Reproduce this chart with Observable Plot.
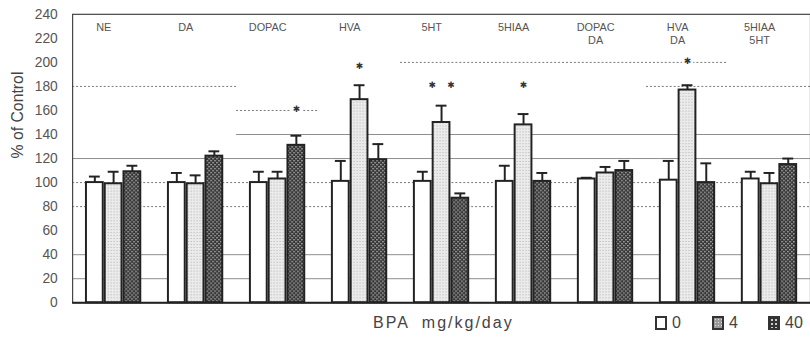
<!DOCTYPE html>
<html>
<head>
<meta charset="utf-8">
<script src="https://cdn.jsdelivr.net/npm/d3@7"></script>
<script src="https://cdn.jsdelivr.net/npm/@observablehq/plot@0.6"></script>
<style>
  html, body { margin: 0; padding: 0; background: #fff; }
  body { position: relative; width: 810px; height: 338px; overflow: hidden; font-family: "Liberation Sans", Arial, sans-serif; }
  #chart { position: absolute; left: 0; top: 0; width: 810px; height: 318px; overflow: hidden; }
  #foot { position: absolute; left: 0; top: 310px; width: 810px; height: 28px; color: #444; }
  #foot .xl { position: absolute; left: 373px; top: 4px; font-size: 16px; letter-spacing: 2px; white-space: pre; }
  #foot .item { position: absolute; top: 4px; font-size: 16px; line-height: 18px; white-space: nowrap; }
  #foot .sq { display: inline-block; width: 8px; height: 10px; border: 2px solid #333; vertical-align: -2px; margin-right: 5px; }
</style>
</head>
<body>
<div id="chart"></div>
<div id="foot"></div>
<script>
// ---- data ----
const groups = ["NE", "DA", "DOPAC", "HVA", "5HT", "5HIAA", "DOPAC/DA", "HVA/DA", "5HIAA/5HT"];
const doses = ["0", "4", "40"];
const mean0  = [100, 100, 100, 101, 101, 101, 103, 102, 103];
const sem0   = [5, 8, 9, 17, 8, 13, 1, 16, 6];
const mean4  = [99, 99, 103, 169, 150, 148, 108, 177, 99];
const sem4   = [10, 7, 6, 12, 14, 9, 5, 4, 9];
const mean40 = [109, 122, 131, 119, 87, 101, 110, 100, 115];
const sem40  = [5, 4, 8, 13, 4, 7, 8, 16, 5];
const yTicks = [0, 20, 40, 60, 80, 100, 120, 140, 160, 180, 200, 220, 240];
const solidGrid = [20, 40, 120];
const dashedGrid = [80, 100];
const solidSegments = [{y: 140, from: "DOPAC", to: "5HIAA/5HT"}];
const dashedSegments = [
  {y: 160, from: "DOPAC", to: "DOPAC"},
  {y: 180, from: "NE", to: "DA"},
  {y: 200, from: "5HT", to: "HVA/DA"},
  {y: 180, from: "HVA/DA", to: "5HIAA/5HT"}
];
const stars = [
  {group: "DOPAC", dose: "40", y: 161, text: "\u2731"},
  {group: "HVA", dose: "4", y: 197, text: "\u2731"},
  {group: "5HT", dose: "4", y: 181, text: "\u2731\u00a0\u00a0\u00a0\u00a0\u2731"},
  {group: "5HIAA", dose: "4", y: 181, text: "\u2731"},
  {group: "HVA/DA", dose: "4", y: 201, text: "\u2731"}
];
const legendLabels = ["0", "4", "40"];

// ---- table ----
const means = {"0": mean0, "4": mean4, "40": mean40};
const sems = {"0": sem0, "4": sem4, "40": sem40};
const rows = doses.flatMap(dose => groups.map((group, i) => ({group, dose, mean: means[dose][i], sem: sems[dose][i]})));

const fills = {"0": "white", "4": "url(#p4)", "40": "url(#p40)"};
const offsets = {"0": -19, "4": 0, "40": 19};

const marks = [
  Plot.ruleY(solidGrid, {stroke: "#8c8c8c", strokeWidth: 1}),
  Plot.ruleY(dashedGrid, {stroke: "#777", strokeWidth: 1, strokeDasharray: "2,2"}),
  Plot.ruleY(solidSegments, {y: "y", x1: "from", x2: "to", stroke: "#8c8c8c", strokeWidth: 1}),
  Plot.ruleY(dashedSegments, {y: "y", x1: "from", x2: "to", stroke: "#777", strokeWidth: 1, strokeDasharray: "2,2"})
];
for (const dose of doses) {
  const data = rows.filter(d => d.dose === dose);
  marks.push(
    Plot.ruleX(data, {x: "group", y1: "mean", y2: d => d.mean + d.sem, dx: offsets[dose], stroke: "#222", strokeWidth: 2}),
    Plot.tickY(data, {x: "group", y: d => d.mean + d.sem, dx: offsets[dose], insetLeft: 36, insetRight: 36, stroke: "#222", strokeWidth: 2}),
    Plot.barY(data, {x: "group", y: "mean", dx: offsets[dose], insetLeft: 33, insetRight: 33, fill: fills[dose], stroke: "#222", strokeWidth: 2}),
    Plot.text(stars.filter(s => s.dose === dose), {x: "group", y: "y", text: "text", dx: offsets[dose], fontSize: 9, fill: "#333", stroke: "white", strokeWidth: 5, fontFamily: "DejaVu Sans"})
  );
}
marks.push(
  Plot.frame({stroke: "#444", strokeWidth: 1.2}),
  Plot.ruleY([0], {stroke: "#222", strokeWidth: 2}),
  Plot.axisY(yTicks, {tickSize: 0, tickPadding: 15, fontSize: 14, label: null}),
  Plot.text(["% of Control"], {frameAnchor: "left", rotate: -90, dx: -55, fontSize: 16, fill: "#444"}),
  Plot.text(groups, {x: d => d, text: d => d.replace("/", "\n"), frameAnchor: "top", lineAnchor: "top", dy: 7, dx: -10, fontSize: 11, lineHeight: 1.2, fill: "#555"})
);

const svg = Plot.plot({
  width: 820,
  height: 318,
  marginLeft: 73,
  marginRight: 0,
  marginTop: 14,
  marginBottom: 12,
  style: {fontFamily: "Liberation Sans, Arial, sans-serif", background: "transparent", color: "#555"},
  x: {domain: groups, padding: 0, axis: null},
  y: {domain: [0, 240], axis: null},
  marks
});

// patterns for bar fills
const defs = `
<defs>
  <pattern id="p4" width="3" height="3" patternUnits="userSpaceOnUse">
    <rect width="3" height="3" fill="#ebebeb"/>
    <rect x="1" y="1" width="1" height="1" fill="#b0b0b0"/>
  </pattern>
  <pattern id="p40" width="4" height="4" patternUnits="userSpaceOnUse">
    <rect width="4" height="4" fill="#333"/>
    <rect x="0" y="0" width="1.4" height="1.4" fill="#c4c4c4"/>
    <rect x="2" y="2" width="1.4" height="1.4" fill="#c4c4c4"/>
  </pattern>
</defs>`;
svg.insertAdjacentHTML("afterbegin", defs);
document.getElementById("chart").appendChild(svg);

// footer: x label and legend
const foot = document.getElementById("foot");
const xl = document.createElement("div");
xl.className = "xl";
xl.textContent = "BPA  mg/kg/day";
foot.appendChild(xl);
const legendLeft = {"0": 655, "4": 712, "40": 768};
const legendBg = {
  "0": "#fff",
  "4": "radial-gradient(#ddd 0.7px, transparent 1px) 0 0/3px 3px, #9a9a9a",
  "40": "radial-gradient(#ccc 0.8px, transparent 1.1px) 0 0/4px 4px, #333"
};
legendLabels.forEach(l => {
  const item = document.createElement("div");
  item.className = "item";
  item.style.left = legendLeft[l] + "px";
  const sq = document.createElement("span");
  sq.className = "sq";
  sq.style.background = legendBg[l];
  item.appendChild(sq);
  item.appendChild(document.createTextNode(l));
  foot.appendChild(item);
});
</script>
</body>
</html>
